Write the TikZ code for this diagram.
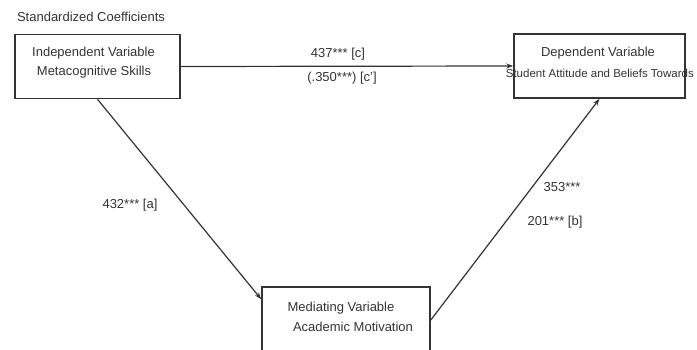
\documentclass[tikz,border=0pt]{standalone}
\usepackage{fontspec}
\setmainfont{Liberation Sans}
\usepackage{tikz}
\usetikzlibrary{arrows.meta}

\begin{document}
\begin{tikzpicture}[x=1pt,y=-1pt,
  varbox/.style={draw=black!80,line width=1.6pt,minimum width=#1,minimum height=64pt,inner sep=0pt},
  lbl/.style={text=black!80,font=\fontsize{13}{15}\selectfont,inner sep=0pt},
  conn/.style={draw=black!80,line width=1.2pt,-{Stealth[length=7pt,width=5pt]}}]

 \useasboundingbox (0,0) rectangle (697,350);
 \clip (0,0) rectangle (697,350);

 \node[lbl] (title) at (91,17) {Standardized Coefficients};

 % the three boxes
 \node[varbox=165pt] (indep) at (97.5,66.5) {};
 \node[varbox=171pt] (dep) at (599.5,66) {};
 \node[varbox=168pt,minimum height=66pt] (medi) at (346,320) {};

 \node[lbl] (indepa) at (93.5,53) {Independent Variable};
 \node[lbl] (indepb) at (94,72) {Metacognitive Skills};
 \node[lbl] (depa) at (598,53) {Dependent Variable};
 \node[lbl,font=\fontsize{11.5}{14}\selectfont,anchor=east] (depb) at (694,73) {Student Attitude and Beliefs Towards};
 \node[lbl] (media) at (341,308) {Mediating Variable};
 \node[lbl] (medib) at (353,327) {Academic Motivation};

 % paths
 \draw[conn] (indep.east) -- (dep.west);
 \draw[conn] (indep.south) -- ([yshift=-13pt]medi.north west);
 \draw[conn] (medi.east) -- (dep.south);

 \node[lbl] (pathc) at (338,54) {437*** [c]};
 \node[lbl] (pathcc) at (342,78) {(.350***) [c']};
 \node[lbl] (patha) at (130,205) {432*** [a]};
 \node[lbl] (pathb) at (562,187) {353***};
 \node[lbl] (pathbb) at (555,222) {201*** [b]};
\end{tikzpicture}
\end{document}
